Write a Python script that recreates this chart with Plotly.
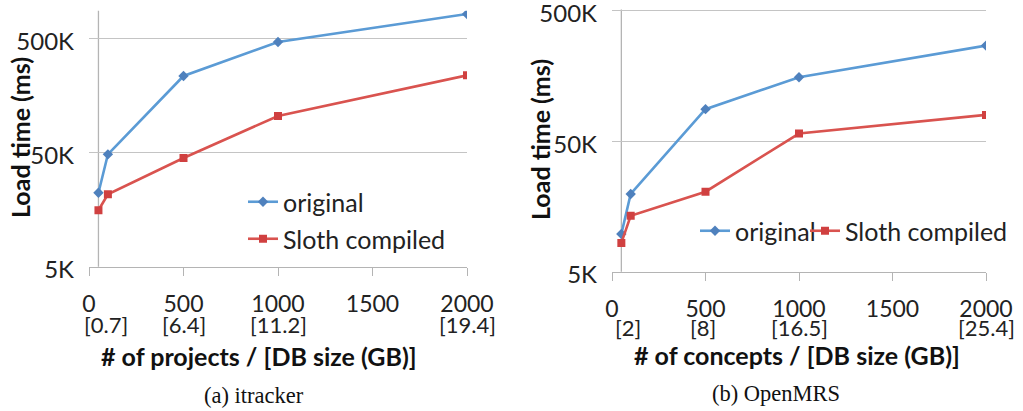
import math
import plotly.graph_objects as go

W, H = 1023, 411

# ---------------- data ----------------
x_vals = [50, 100, 500, 1000, 2000]

itracker_original = [22200, 48200, 234000, 464000, 816000]
itracker_sloth = [15600, 21500, 44800, 104400, 237000]

openmrs_original = [9700, 19700, 88200, 155000, 271000]
openmrs_sloth = [8300, 13400, 20500, 57300, 79700]

x_ticks = [0, 500, 1000, 1500, 2000]
y_ticks = [5000, 50000, 500000]
y_tick_text = ["5K", "50K", "500K"]

itracker_size_pos = [88, 500, 1000, 2000]
itracker_size_lbl = ["[0.7]", "[6.4]", "[11.2]", "[19.4]"]
openmrs_size_pos = [84, 485, 1000, 2000]
openmrs_size_lbl = ["[2]", "[8]", "[16.5]", "[25.4]"]

BLUE_LINE = "#5b9bd5"
BLUE_MK = "#4f81bd"
RED_LINE = "#d9534f"
RED_MK = "#d04040"
GRID = "#c4c4c4"
AXIS = "#b4b4b4"
FONT = "Lato"


def px_x(p):
    return p / W


def px_y(p):
    return 1 - p / H


fig = go.Figure()


def add_pair(xa, ya, orig, sloth, leg_o, leg_s):
    fig.add_trace(go.Scatter(
        x=x_vals, y=orig, name="original", mode="lines+markers",
        line=dict(color=BLUE_LINE, width=2.6),
        marker=dict(symbol="diamond", size=8, color=BLUE_MK),
        xaxis=xa, yaxis=ya, legend=leg_o, showlegend=True))
    fig.add_trace(go.Scatter(
        x=x_vals, y=sloth, name="Sloth compiled", mode="lines+markers",
        line=dict(color=RED_LINE, width=2.6),
        marker=dict(symbol="square", size=8, color=RED_MK),
        xaxis=xa, yaxis=ya, legend=leg_s, showlegend=True))


add_pair("x", "y", itracker_original, itracker_sloth, "legend2", "legend3")
add_pair("x2", "y2", openmrs_original, openmrs_sloth, "legend4", "legend5")

xcommon = dict(range=[0, 2000], tickvals=x_ticks, showgrid=False, zeroline=False,
               showline=True, linecolor=AXIS, linewidth=1.3,
               ticks="outside", ticklen=8, tickcolor=AXIS, tickwidth=1.3,
               tickfont=dict(family=FONT, size=23, color="#222"),
               ticklabelstandoff=9, automargin=False, ticklabeloverflow="allow")
ycommon = dict(type="log", tickvals=y_ticks, ticktext=y_tick_text,
               showgrid=True, gridcolor=GRID, gridwidth=1.3, zeroline=False,
               showline=False, ticks="",
               tickfont=dict(family=FONT, size=24, color="#222"),
               ticklabelstandoff=14, ticklabelshift=3,
               automargin=False, ticklabeloverflow="allow")

fig.update_layout(
    width=W, height=H, margin=dict(l=0, r=0, t=0, b=0, autoexpand=False),
    paper_bgcolor="white", plot_bgcolor="white",
    xaxis=dict(domain=[px_x(89), px_x(467)], anchor="y", **xcommon),
    yaxis=dict(domain=[px_y(266.7), px_y(10.7)], anchor="x",
               range=[math.log10(5000), math.log10(5000) + 2.242], **ycommon),
    xaxis2=dict(domain=[px_x(612), px_x(986)], anchor="y2", **xcommon),
    yaxis2=dict(domain=[px_y(271.7), px_y(9.4)], anchor="x2",
                range=[math.log10(5000) - 0.001, math.log10(500000) + 0.012], **ycommon),
)

leg_common = dict(bgcolor="rgba(0,0,0,0)", font=dict(family=FONT, size=25, color="#222"),
                  xanchor="left", yanchor="middle", itemwidth=30)
fig.update_layout(
    legend2=dict(x=px_x(243), y=px_y(202), **leg_common),
    legend3=dict(x=px_x(243), y=px_y(239), **leg_common),
    legend4=dict(x=px_x(695), y=px_y(231), **leg_common),
    legend5=dict(x=px_x(805), y=px_y(231), **leg_common),
)

# y-axis lines crossing at x = 50
for xr, yr in (("x", "y"), ("x2", "y2")):
    fig.add_shape(type="line", xref=xr, yref=yr + " domain", x0=50, x1=50, y0=0, y1=1,
                  line=dict(color=AXIS, width=1.3), layer="below")

# DB size labels
for xr, pos, lbl, yc in (("x", itracker_size_pos, itracker_size_lbl, 324),
                         ("x2", openmrs_size_pos, openmrs_size_lbl, 327)):
    for p, t in zip(pos, lbl):
        fig.add_annotation(x=p, y=px_y(yc), xref=xr, yref="paper", text=t,
                           showarrow=False, xanchor="center", yanchor="middle",
                           font=dict(family=FONT, size=22, color="#222"))


def note(x, y, text, size, family=FONT, angle=0, color="#111"):
    fig.add_annotation(x=px_x(x), y=px_y(y), xref="paper", yref="paper",
                       text=text, textangle=angle, showarrow=False,
                       xanchor="center", yanchor="middle",
                       font=dict(family=family, size=size, color=color))


# axis titles
note(259, 356, "<b># of projects / [DB size (GB)]</b>", 25)
note(797, 355, "<b># of concepts / [DB size (GB)]</b>", 25)
note(20, 138, "<b>Load time (ms)</b>", 25, angle=-90)
note(540, 140, "<b>Load time (ms)</b>", 25, angle=-90)

# captions
note(254, 395, "(a) itracker", 22.5, family="Liberation Serif")
note(776, 393, "(b) OpenMRS", 22.5, family="Liberation Serif")

fig.write_html(
    "out.html",
    config={"displayModeBar": False},
    post_script="document.body.style.margin='0';document.body.style.padding='0';",
)
